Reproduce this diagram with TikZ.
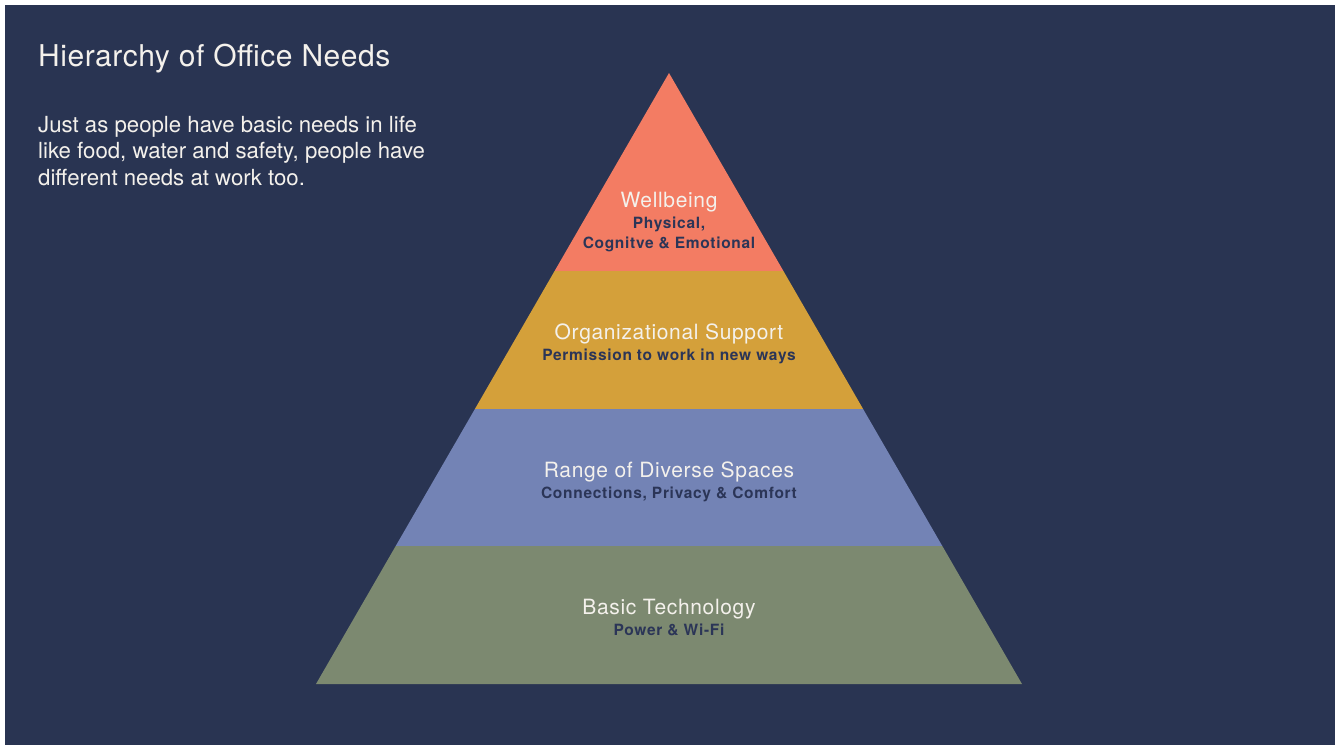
\documentclass[tikz,border=0pt]{standalone}
\usepackage{fontspec}
\setmainfont{TeX Gyre Heros}
\usetikzlibrary{positioning}
\definecolor{slidebg}{HTML}{293452}
\definecolor{wellbeing}{HTML}{F37C63}
\definecolor{orgsupport}{HTML}{D4A03A}
\definecolor{spaces}{HTML}{7383B5}
\definecolor{basictech}{HTML}{7C8970}
\definecolor{subnavy}{HTML}{2B3557}
\definecolor{softwhite}{HTML}{F4F1EC}

\begin{document}
\begin{tikzpicture}[
    x=1pt, y=-1pt,
    title_style/.style={text=softwhite, anchor=base west, inner sep=0pt, font=\fontsize{30}{34}\selectfont\addfontfeatures{LetterSpace=1.8}},
    intro_style/.style={text=softwhite, anchor=base west, inner sep=0pt, font=\fontsize{22.2}{26}\selectfont},
    layer_title/.style={text=softwhite, anchor=base, inner sep=0pt, font=\fontsize{21}{24}\selectfont\addfontfeatures{LetterSpace=3.2}},
    layer_sub/.style={text=subnavy, anchor=base, inner sep=0pt, font=\bfseries\fontsize{15.5}{17}\selectfont\addfontfeatures{LetterSpace=4.5}}
]

    % Slide background with thin white frame on top/left
    \fill[white] (0,0) rectangle (1335,745);
    \fill[slidebg] (5,5) rectangle (1335,745);
    \useasboundingbox (0,0) rectangle (1335,745);

    % --- Heading ---
    \node[title_style] (title) at (38,66) {Hierarchy of Office Needs};
    \node[intro_style] (intro_a) at (38,132) {Just as people have basic needs in life};
    \node[intro_style] (intro_b) at (38,158.5) {like food, water and safety, people have};
    \node[intro_style] (intro_c) at (38,185) {different needs at work too.};

    % --- Pyramid bands (apex 669,73 / base 316--1022 at 684) ---
    \fill[wellbeing] (669,73) -- (554.6,271) -- (783.4,271) -- cycle;
    \fill[orgsupport] (554.6,271) -- (474.9,409) -- (863.1,409) -- (783.4,271) -- cycle;
    \fill[spaces] (474.9,409) -- (395.7,546) -- (942.3,546) -- (863.1,409) -- cycle;
    \fill[basictech] (395.7,546) -- (316,684) -- (1022,684) -- (942.3,546) -- cycle;

    % Top band
    \node[layer_title] (well_title) at (669,207) {Wellbeing};
    \node[layer_sub] (well_sub_a) at (669,228.5) {Physical,};
    \node[layer_sub] (well_sub_b) at (669,248.5) {Cognitve \& Emotional};

    % Second band
    \node[layer_title] (org_title) at (669,339) {Organizational Support};
    \node[layer_sub] (org_sub) at (669,360) {Permission to work in new ways};

    % Third band
    \node[layer_title] (space_title) at (669,477) {Range of Diverse Spaces};
    \node[layer_sub] (space_sub) at (669,498) {Connections, Privacy \& Comfort};

    % Base band
    \node[layer_title] (tech_title) at (669,614) {Basic Technology};
    \node[layer_sub] (tech_sub) at (669,635.5) {Power \& Wi-Fi};

\end{tikzpicture}
\end{document}
